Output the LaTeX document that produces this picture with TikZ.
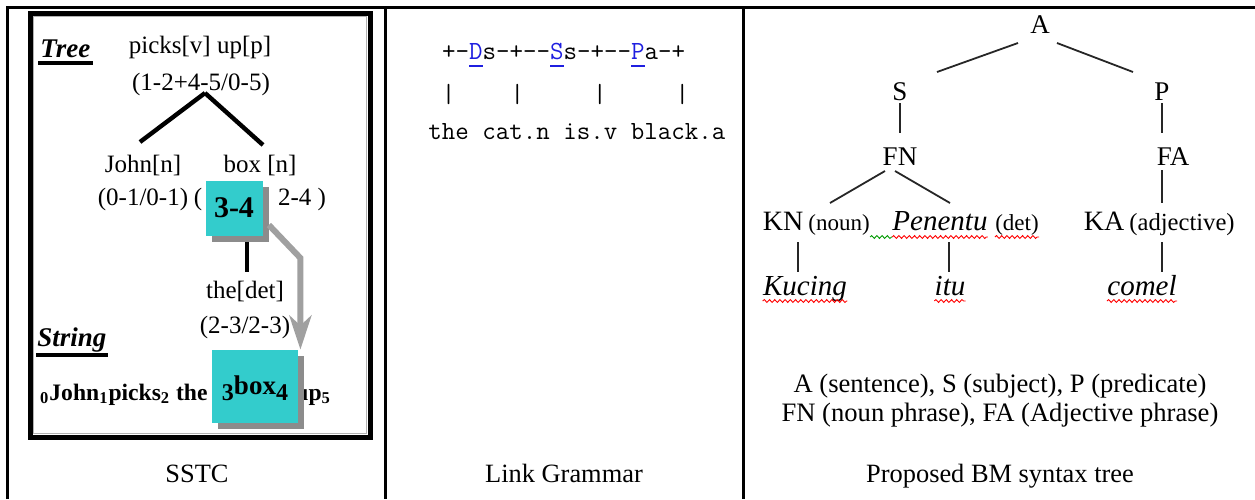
\documentclass[tikz,border=0pt]{standalone}
\usepackage{fontspec}
\setmainfont{Liberation Serif}
\usepackage{tikz}
\usetikzlibrary{calc, positioning, arrows.meta, shadows, decorations.pathmorphing}

\definecolor{boxcyan}{HTML}{33CCCC}
\definecolor{shadegray}{HTML}{8C8C8C}
\definecolor{arrowgray}{HTML}{A0A0A0}
\definecolor{linkblue}{HTML}{1F1FE0}
\newcommand{\fs}[1]{\fontsize{#1}{#1}\selectfont}
\newcommand{\lnk}[1]{\textcolor{linkblue}{\rlap{\rule[-4pt]{0.525em}{0.9pt}}#1}}
\newcommand{\sub}[1]{\lower3pt\hbox{\fs{12}#1}}

\begin{document}
\begin{tikzpicture}[x=0.5pt,y=-0.5pt,
	every node/.style={inner sep=0pt, anchor=base},
	tab/.style={line width=1.5pt},
	frame/.style={line width=2.5pt},
	sstc/.style={font=\fs{12.5}},
	head/.style={font=\fs{13.5}\bfseries\itshape},
	ulbar/.style={line width=2pt},
	tline/.style={line width=2.2pt},
	cbox/.style={fill=boxcyan, anchor=center,
		drop shadow={shadow xshift=3pt, shadow yshift=-3pt, opacity=1, fill=shadegray}},
	garrow/.style={draw=arrowgray, line width=3pt, -{Stealth[length=17pt, width=11pt, inset=5pt]}},
	caption/.style={font=\fs{13.2}},
	lg/.style={font=\ttfamily\fs{13.1}},
	bmlab/.style={font=\fs{13.5}},
	gloss/.style={font=\fs{11.5}},
	bmword/.style={font=\fs{14.5}\itshape},
	bm/.style={draw=black!85, line width=0.9pt},
	spell/.style={draw=red, line width=0.45pt, decorate,
		decoration={snake, amplitude=0.7pt, segment length=2.6pt}}]
	\useasboundingbox (0,0) rectangle (1255,499);

	% table
	\draw[tab] (7,499) -- (7,7) -- (1255,7);
	\draw[tab] (385,7) -- (385,499);
	\draw[tab] (743,7) -- (743,499);

	% SSTC
	\draw[frame] (30,13) rectangle (370,437);
	\draw[draw=gray!60, line width=0.6pt] (33.5,16.5) rectangle (366.5,433.5);

	\node[head, anchor=base west] (treelbl) at (40,57) {Tree};
	\draw[ulbar] ($(treelbl.base west)+(-2,6)$) -- ($(treelbl.base east)+(2,6)$);

	\node[sstc] (pick) at (200,53) {picks[v] up[p]};
	\node[sstc] (pickspan) at (201,90) {(1-2+4-5/0-5)};
	\node[sstc] (john) at (143,172) {John[n]};
	\node[sstc] (johnspan) at (143,205) {(0-1/0-1)};
	\node[sstc] (boxw) at (260,172) {box [n]};
	\node[sstc] (boxl) at (198,205) {(};
	\node[sstc] (boxr) at (302,205) {2-4 )};
	\draw[tline] ($(pickspan.base)+(4,3)$) -- ($(john.base)+(-3,-30)$);
	\draw[tline] ($(pickspan.base)+(4,3)$) -- ($(boxw.base)+(3,-27)$);

	\node[cbox, minimum width=28.5pt, minimum height=27.5pt, font=\fs{15}\bfseries] (span34) at (234,208) {3-4};
	\node[sstc] (det) at (245,298) {the[det]};
	\node[sstc] (detspan) at (245,333) {(2-3/2-3)};
	\draw[tline] ($(span34.south)+(13,6)$) -- ($(det.base)+(2,-26)$);

	\node[head, anchor=base west] (strlbl) at (37,346) {String};
	\draw[ulbar] ($(strlbl.base west)+(-1,9)$) -- ($(strlbl.base east)+(1,9)$);

	\node[font=\fs{11.8}\bfseries, anchor=base east] (sstcstr) at (208,400)
		{\textsubscript{0}John\textsubscript{1}picks\textsubscript{2} the};
	\node[font=\fs{11.8}\bfseries, anchor=base west] (upstr) at (295,400) {up\textsubscript{5}};
	\node[cbox, minimum width=43pt, minimum height=36.5pt, font=\fs{13.5}\bfseries] (span34b) at (255,386.5)
		{\raisebox{-4pt}[0pt][0pt]{\sub{3}box\sub{4}}};

	\draw[garrow] ($(span34.east)+(6,17)$) -- ($(span34.east)+(37.5,50)$) -- ($(span34b.north east)+(2,0)$);

	\node[caption] (sstccap) at (197,482) {SSTC};

	% Link Grammar
	\node[lg, anchor=base west] (links) at (441.75,59) {+-\lnk{D}s-+--\lnk{S}s-+--\lnk{P}a-+};
	\foreach \c [count=\i] in {1,6,12,18}
		\node[lg] (bar\i) at ({428+(\c+0.5)*13.75},102) {|};
	\node[lg, anchor=base west] (lgwords) at (428,139) {the cat.n is.v black.a};

	\node[caption] (lgcap) at (564,482) {Link Grammar};

	% BM syntax tree
	\node[bmlab] (A) at (1040,33) {A};
	\node[bmlab] (S) at (900,100) {S};
	\node[bmlab] (P) at (1162,100) {P};
	\node[bmlab] (FN) at (900,165) {FN};
	\node[bmlab] (FA) at (1173,165) {FA};
	\node[font=\fs{14}] (KN) at (783,230) {KN};
	\node[gloss] (noun) at (839,230) {(noun)};
	\node[bmword] (pen) at (940,230) {Penentu};
	\node[gloss] (detgl) at (1017,230) {(det)};
	\node[font=\fs{14}] (KA) at (1104,230) {KA};
	\node[gloss, font=\fs{12.3}] (adj) at (1182,230) {(adjective)};
	\node[bmword] (kucing) at (805,295) {Kucing};
	\node[bmword] (itu) at (950,295) {itu};
	\node[bmword] (comel) at (1142,295) {comel};

	\draw[bm] ($(A.base)+(-22,10)$) -- ($(S.base)+(37,-28)$);
	\draw[bm] ($(A.base)+(17,10)$) -- ($(P.base)+(-29,-28)$);
	\draw[bm] ($(S.base)+(0,3)$) -- ($(FN.base)+(0,-32)$);
	\draw[bm] ($(P.base)+(0,3)$) -- ($(FA.base)+(-11,-32)$);
	\draw[bm] ($(FN.base)+(-15,6)$) -- ($(KN.base)+(47,-27)$);
	\draw[bm] ($(FN.base)+(-5,6)$) -- ($(pen.base)+(10,-27)$);
	\draw[bm] ($(FA.base)+(-11,5)$) -- ($(KA.base)+(58,-27)$);
	\draw[bm] ($(KN.base)+(15,12)$) -- ($(kucing.base)+(-7,-23)$);
	\draw[bm] ($(pen.base)+(9,12)$) -- ($(itu.base)+(-1,-23)$);
	\draw[bm] ($(KA.base)+(58,12)$) -- ($(comel.base)+(20,-23)$);

	% spelling marks
	\draw[spell] ($(kucing.base west)+(0,6)$) -- ($(kucing.base east)+(0,6)$);
	\draw[spell] ($(itu.base west)+(0,6)$) -- ($(itu.base east)+(0,6)$);
	\draw[spell] ($(comel.base west)+(0,6)$) -- ($(comel.base east)+(0,6)$);
	\draw[spell] ($(pen.base west)+(0,7)$) -- ($(pen.base east)+(0,7)$);
	\draw[spell] ($(detgl.base west)+(0,7)$) -- ($(detgl.base east)+(0,7)$);
	\draw[spell, draw=green!60!black] ($(noun.base east)+(0,7)$) -- ($(pen.base west)+(0,7)$);

	\node[font=\fs{13.3}] (leg1) at (1000,392) {A (sentence), S (subject), P (predicate)};
	\node[font=\fs{13.3}] (leg2) at (1000,421) {FN (noun phrase), FA (Adjective phrase)};
	\node[caption] (bmcap) at (1000,482) {Proposed BM syntax tree};
\end{tikzpicture}
\end{document}
